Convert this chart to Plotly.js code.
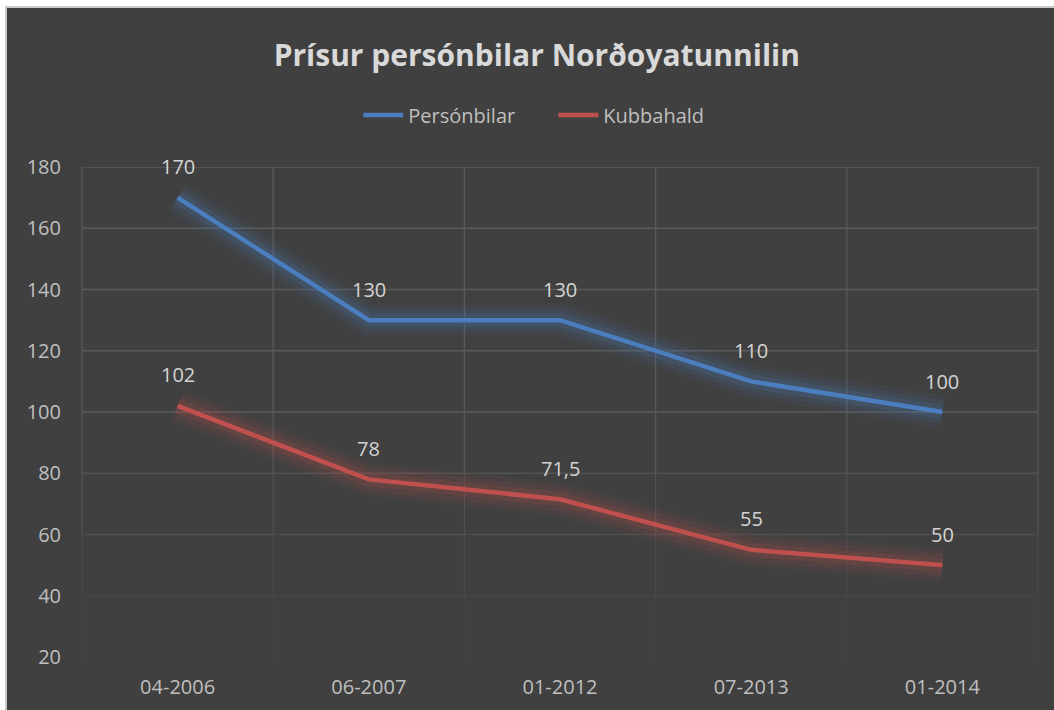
<!DOCTYPE html>
<html>
<head>
<meta charset="utf-8">
<script src="https://cdn.plot.ly/plotly-3.0.1.min.js"></script>
<style>
  html, body { margin: 0; padding: 0; background: #ffffff; overflow: hidden; width: 1054px; height: 710px; }
  #wrap { position: absolute; left: 5px; top: 6px; border-left: 2px solid #c9c9c9; border-top: 2px solid #c9c9c9; }
  #chart { width: 1047px; height: 702px; }
</style>
</head>
<body>
<div id="wrap"><div id="chart"></div></div>
<script>
// ---- data ----
const categories = ["04-2006", "06-2007", "01-2012", "07-2013", "01-2014"];
const persónbilar = [170, 130, 130, 110, 100];
const kubbahald = [102, 78, 71.5, 55, 50];
const seriesNames = ["Persónbilar", "Kubbahald"];
const yTicks = [20, 40, 60, 80, 100, 120, 140, 160, 180];
const chartTitle = "Prísur persónbilar Norðoyatunnilin";

// ---- styles ----
const BLUE = "#4a7ebf";
const RED = "#c0504d";
const FONT = "Open Sans, Noto Sans, sans-serif";

function glow(y, rgb) {
  return [
    {x: categories, y: y, type: "scatter", mode: "lines", hoverinfo: "skip", showlegend: false,
     line: {color: "rgba(" + rgb + ",0.06)", width: 34}},
    {x: categories, y: y, type: "scatter", mode: "lines", hoverinfo: "skip", showlegend: false,
     line: {color: "rgba(" + rgb + ",0.10)", width: 24}},
    {x: categories, y: y, type: "scatter", mode: "lines", hoverinfo: "skip", showlegend: false,
     line: {color: "rgba(" + rgb + ",0.16)", width: 14}}
  ];
}

const traces = [].concat(
  glow(persónbilar, "74,126,191"),
  glow(kubbahald, "192,80,77"),
  [
    {x: categories, y: persónbilar, name: seriesNames[0], type: "scatter", mode: "lines",
     line: {color: BLUE, width: 4.5}},
    {x: categories, y: kubbahald, name: seriesNames[1], type: "scatter", mode: "lines",
     line: {color: RED, width: 4.5}}
  ]
);

// data labels from the series arrays
const annotations = [];
[persónbilar, kubbahald].forEach(function (arr) {
  arr.forEach(function (v, i) {
    annotations.push({
      x: categories[i], y: v, xref: "x", yref: "y",
      text: String(v).replace(".", ","), showarrow: false,
      yanchor: "middle", yshift: 31,
      font: {family: FONT, size: 20, color: "#d4d4d4"}
    });
  });
});

// fading gridlines (Excel soft edge look)
function fade(v) { return Math.max(0, Math.min(1, (v - 20) / 80)); }
const GRID = "#5a5a5a";
const shapes = [];
yTicks.forEach(function (v) {
  const o = fade(v);
  if (o > 0) {
    shapes.push({type: "line", layer: "below", xref: "paper", yref: "y", x0: 0, x1: 1, y0: v, y1: v,
                 line: {color: GRID, width: 1.3}, opacity: o});
  }
});
for (let k = 0; k <= categories.length; k++) {
  for (let j = 0; j < yTicks.length - 1; j++) {
    const o = (fade(yTicks[j]) + fade(yTicks[j + 1])) / 2;
    if (o > 0) {
      shapes.push({type: "line", layer: "below", xref: "paper", yref: "y",
                   x0: k / categories.length, x1: k / categories.length,
                   y0: yTicks[j], y1: yTicks[j + 1],
                   line: {color: GRID, width: 1.3}, opacity: o});
    }
  }
}

const layout = {
  width: 1047, height: 702,
  paper_bgcolor: "#404040", plot_bgcolor: "#404040",
  margin: {l: 75, r: 16, t: 159, b: 53},
  font: {family: FONT, color: "#c0c0c0"},
  separators: ", ",
  title: {
    text: "<b>" + chartTitle + "</b>",
    font: {family: FONT, size: 30, color: "#d9d9d9"},
    xref: "container", yref: "container", x: 0.506, y: 0.933,
    xanchor: "center", yanchor: "middle"
  },
  showlegend: true,
  legend: {
    orientation: "h", x: 0.493, y: 1.106, xanchor: "center", yanchor: "middle",
    font: {family: FONT, size: 20, color: "#bfbfbf"}, bgcolor: "rgba(0,0,0,0)",
    itemwidth: 40, entrywidth: 140
  },
  xaxis: {
    type: "category", range: [-0.5, categories.length - 0.5],
    showgrid: false, zeroline: false, showline: false, ticks: "",
    tickfont: {family: FONT, size: 20, color: "#bfbfbf"},
    ticklabelstandoff: 16, fixedrange: true
  },
  yaxis: {
    range: [yTicks[0], yTicks[yTicks.length - 1]], tickvals: yTicks,
    showgrid: false, zeroline: false, showline: false, ticks: "",
    tickfont: {family: FONT, size: 20, color: "#bfbfbf"},
    ticklabelstandoff: 20, fixedrange: true
  },
  shapes: shapes,
  annotations: annotations
};

Plotly.newPlot("chart", traces, layout, {displayModeBar: false, staticPlot: true});
</script>
</body>
</html>
